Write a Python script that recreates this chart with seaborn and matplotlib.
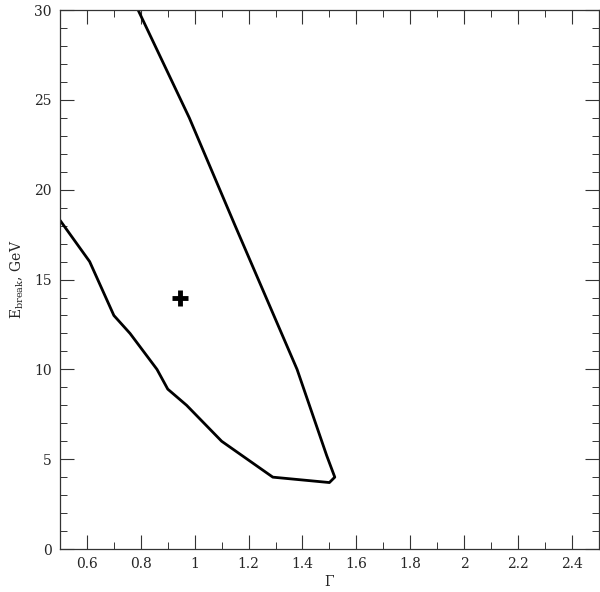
import seaborn as sns
import pandas as pd
import matplotlib.pyplot as plt
from matplotlib.ticker import MultipleLocator

# contour traced along the boundary
gamma = [0.50, 0.61, 0.70, 0.76, 0.86, 0.90, 0.97, 1.10, 1.29, 1.50, 1.52, 1.49, 1.38, 1.15, 0.98, 0.79]
ebreak = [18.3, 16.0, 13.0, 12.0, 10.0, 8.9, 8.0, 6.0, 4.0, 3.7, 4.0, 5.2, 10.0, 18.0, 24.0, 30.0]

best_gamma = [0.945]
best_ebreak = [14.0]

df = pd.DataFrame({'gamma': gamma, 'ebreak': ebreak})
best = pd.DataFrame({'gamma': best_gamma, 'ebreak': best_ebreak})

sns.set_style('ticks')
plt.rcParams['font.family'] = ['DejaVu Serif']
plt.rcParams['mathtext.fontset'] = 'dejavuserif'

fig = plt.figure(figsize=(6, 5.92), dpi=100)
ax = fig.add_axes([0.1, 0.0726, 0.898, 0.9104])

sns.lineplot(data=df, x='gamma', y='ebreak', sort=False, color='black', linewidth=2.0, ax=ax)
sns.scatterplot(data=best, x='gamma', y='ebreak', marker='+', s=140, color='black', linewidth=3.5, ax=ax)

ax.set_xlim(0.5, 2.5)
ax.set_ylim(0, 30)
ax.xaxis.set_major_locator(MultipleLocator(0.2))
ax.xaxis.set_minor_locator(MultipleLocator(0.1))
ax.yaxis.set_major_locator(MultipleLocator(5))
ax.yaxis.set_minor_locator(MultipleLocator(1))
ax.set_xticks([0.6, 0.8, 1.0, 1.2, 1.4, 1.6, 1.8, 2.0, 2.2, 2.4])
ax.set_xticklabels(['0.6', '0.8', '1', '1.2', '1.4', '1.6', '1.8', '2', '2.2', '2.4'])
ax.set_yticks([0, 5, 10, 15, 20, 25, 30])
ax.tick_params(which='both', direction='in', top=True, right=True, labelsize=10, color='#333333')
ax.tick_params(which='major', length=10, width=0.8, pad=6)
ax.tick_params(which='minor', length=5, width=0.7)
for s in ax.spines.values():
    s.set_linewidth(0.9)
    s.set_color('#333333')

ax.set_xlabel(r'$\Gamma$', fontsize=10, labelpad=2)
ax.set_ylabel(r'E$_{\rm break}$, GeV', fontsize=10, labelpad=6)

plt.savefig('out.png', dpi=100)
